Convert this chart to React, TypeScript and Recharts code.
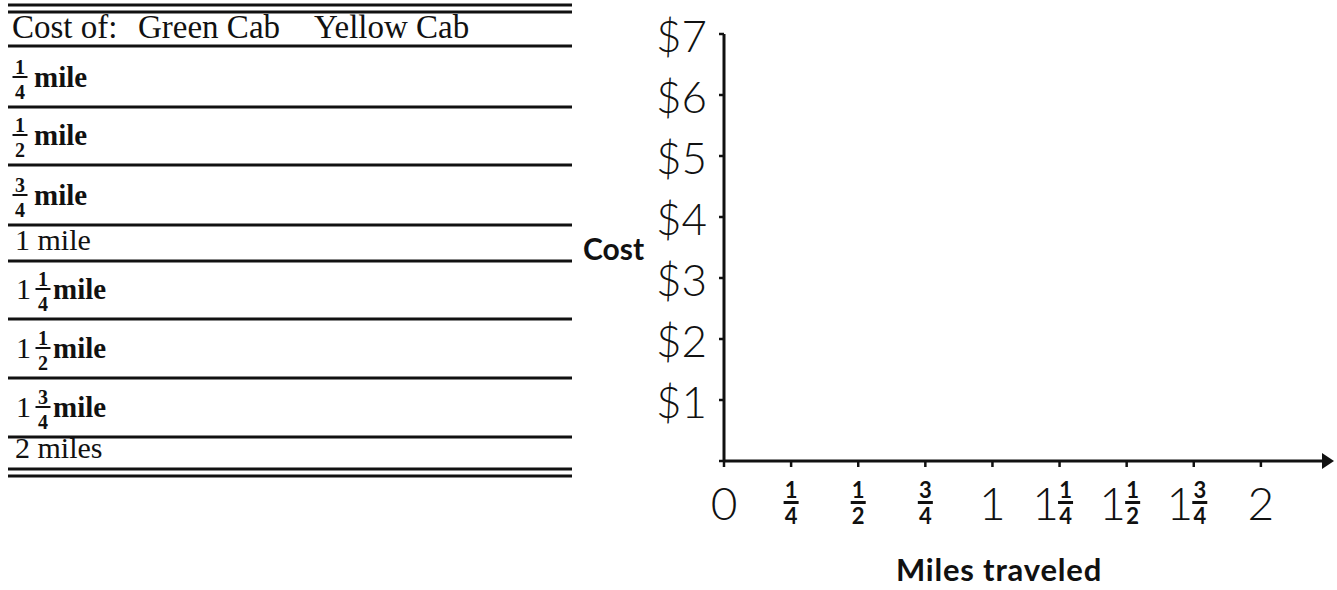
import React from 'react';
import { LineChart, Line, XAxis, YAxis, Label } from 'recharts';

// worksheet table
const tableHeaders = ['Cost of:', 'Green Cab', 'Yellow Cab'];
const tableWholes = ['', '', '', '1', '1', '1', '1', '2'];
const tableFractions = ['1/4', '1/2', '3/4', '', '1/4', '1/2', '3/4', ''];
const tableUnits = ['mile', 'mile', 'mile', 'mile', 'mile', 'mile', 'mile', 'miles'];

// the graph is left blank for the student, so the costs are empty
const miles = [0.25, 0.5, 0.75, 1, 1.25, 1.5, 1.75, 2];
const greenCabCost: (number | null)[] = [null, null, null, null, null, null, null, null];
const yellowCabCost: (number | null)[] = [null, null, null, null, null, null, null, null];

const mileTicks = [0, 0.25, 0.5, 0.75, 1, 1.25, 1.5, 1.75, 2];
const mileTickWholes = ['0', '', '', '', '1', '1', '1', '1', '2'];
const mileTickFractions = ['', '1/4', '1/2', '3/4', '', '1/4', '1/2', '3/4', ''];
const costTicks = [0, 1, 2, 3, 4, 5, 6, 7];
const costTickLabels = ['', '$1', '$2', '$3', '$4', '$5', '$6', '$7'];

const chartData = miles.map((m, i) => ({ miles: m, green: greenCabCost[i], yellow: yellowCabCost[i] }));

// row rules of the table (y, px)
const ROW_LINES = [46, 107, 165, 225, 261, 319, 378, 437, 469];
const INK = '#111';
const SERIF = '"Liberation Serif", "Times New Roman", serif';
const SANS = 'Lato, "Open Sans", sans-serif';

const CostTable = () => (
  <svg width={580} height={490} style={{ position: 'absolute', left: 0, top: 0 }}>
    {[5, 12, ...ROW_LINES, 476].map((y) => (
      <rect key={y} x={8} y={y - 1.5} width={564} height={3} fill={INK} />
    ))}
    {tableHeaders.map((h, i) => (
      <text key={h} x={[12, 138, 314][i]} y={38} fontFamily={SERIF} fontSize={33} fill={INK}>
        {h}
      </text>
    ))}
    {tableUnits.map((unit, i) => {
      const bottom = ROW_LINES[i + 1];
      const whole = tableWholes[i];
      const frac = tableFractions[i];
      if (!frac) {
        return (
          <text key={i} x={15} y={bottom - 11} fontFamily={SERIF} fontSize={30} fill={INK}>
            {`${whole} ${unit}`}
          </text>
        );
      }
      const [num, den] = frac.split('/');
      const bar = bottom - 30;
      const fx = whole ? 43 : 20;
      return (
        <g key={i}>
          {whole && (
            <text x={16} y={bar + 10} fontFamily={SERIF} fontSize={30} fill={INK}>
              {whole}
            </text>
          )}
          <text x={fx} y={bar - 3} textAnchor="middle" fontFamily={SERIF} fontWeight={700} fontSize={20} fill={INK}>
            {num}
          </text>
          <rect x={fx - 7.5} y={bar - 1} width={15} height={2} fill={INK} />
          <text x={fx} y={bar + 22} textAnchor="middle" fontFamily={SERIF} fontWeight={700} fontSize={20} fill={INK}>
            {den}
          </text>
          <text x={whole ? 53 : 34} y={bar + 10} fontFamily={SERIF} fontWeight={700} fontSize={29} fill={INK}>
            {unit}
          </text>
        </g>
      );
    })}
  </svg>
);

const MileTick = ({ x, y, payload }: any) => {
  const i = mileTicks.indexOf(payload.value);
  const whole = mileTickWholes[i];
  const frac = mileTickFractions[i];
  const fx = whole ? x + 6 : x;
  const [num, den] = frac ? frac.split('/') : ['', ''];
  return (
    <g>
      {whole && (
        <text x={frac ? x - 14 : x} y={y + 53} textAnchor="middle" fontFamily={SANS} fontWeight={300} fontSize={46} fill={INK}>
          {whole}
        </text>
      )}
      {frac && (
        <g>
          <text x={fx} y={y + 31} textAnchor="middle" fontFamily={SANS} fontWeight={700} fontSize={22} fill={INK}>
            {num}
          </text>
          <rect x={fx - 7.5} y={y + 34} width={15} height={3} fill={INK} />
          <text x={fx} y={y + 57} textAnchor="middle" fontFamily={SANS} fontWeight={700} fontSize={22} fill={INK}>
            {den}
          </text>
        </g>
      )}
    </g>
  );
};

const CostTick = ({ x, y, payload }: any) => (
  <text x={x} y={y + 18} textAnchor="end" fontFamily={SANS} fontWeight={300} fontSize={44} fill={INK}>
    {costTickLabels[costTicks.indexOf(payload.value)]}
  </text>
);

const MilesLabel = ({ viewBox }: any) => (
  <text
    x={viewBox.x + viewBox.width / 2 - 27}
    y={viewBox.y + 120}
    textAnchor="middle"
    fontFamily={SANS}
    fontWeight={700}
    fontSize={31}
    letterSpacing={0.8}
    fill={INK}
  >
    Miles traveled
  </text>
);

export default function App() {
  return (
    <div style={{ position: 'absolute', left: 0, top: 0, width: 1337, height: 590, background: '#fff' }}>
      <CostTable />
      <div style={{ position: 'absolute', left: 570, top: 0 }}>
        <LineChart width={767} height={590} data={chartData} margin={{ top: 34, right: 9, bottom: 0, left: 0 }}>
          <defs>
            <marker
              id="mileArrow"
              viewBox="0 0 12 16"
              markerWidth={12}
              markerHeight={16}
              refX={6}
              refY={8}
              orient="auto"
              markerUnits="userSpaceOnUse"
            >
              <path d="M0,0 L12,8 L0,16 Z" fill={INK} />
            </marker>
          </defs>
          <XAxis
            type="number"
            dataKey="miles"
            domain={[0, 2.25]}
            ticks={mileTicks}
            interval={0}
            allowDataOverflow
            height={129}
            tickSize={6}
            tickMargin={0}
            axisLine={{ stroke: INK, strokeWidth: 3, markerEnd: 'url(#mileArrow)' }}
            tickLine={{ stroke: INK, strokeWidth: 2.5 }}
            tick={(props: any) => <MileTick {...props} />}
          >
            <Label content={(props: any) => <MilesLabel {...props} />} />
          </XAxis>
          <YAxis
            type="number"
            domain={[0, 7]}
            ticks={costTicks}
            interval={0}
            allowDataOverflow
            width={154}
            tickSize={5}
            tickMargin={12}
            axisLine={{ stroke: INK, strokeWidth: 3 }}
            tickLine={{ stroke: INK, strokeWidth: 2.5 }}
            tick={(props: any) => <CostTick {...props} />}
          >
            <Label
              value="Cost"
              position="insideLeft"
              offset={13}
              dy={2}
              fontFamily={SANS}
              fontWeight={700}
              fontSize={30}
              fill={INK}
            />
          </YAxis>
          <Line type="linear" dataKey="green" stroke="#2e7d32" strokeWidth={2} dot={false} isAnimationActive={false} />
          <Line type="linear" dataKey="yellow" stroke="#e0b000" strokeWidth={2} dot={false} isAnimationActive={false} />
        </LineChart>
      </div>
    </div>
  );
}
